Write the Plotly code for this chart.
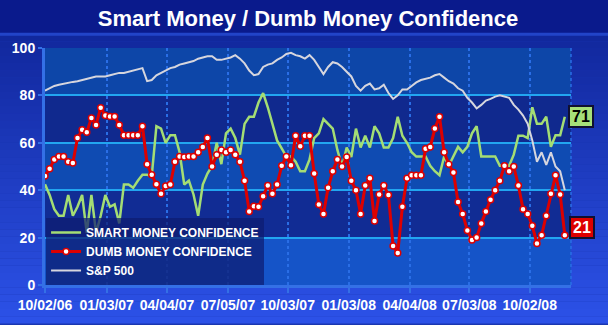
import plotly.graph_objects as go
import pandas as pd

# ---------------- data (weekly) ----------------
weeks = pd.date_range("2006-10-02", periods=113, freq="7D")

smart_money = [
    42.5, 38, 32, 29.2, 29.2, 38, 29.2, 33, 38, 22, 38, 22, 29.2, 38, 33, 34, 26, 42.4, 42.4, 41,
    44, 46.5, 46.5, 46, 67, 66, 60, 63.2, 63.2, 56, 42.4, 44, 38.2, 29.2, 42.4, 47, 50.3, 60, 51,
    64, 66, 62, 55, 68, 71, 71, 77, 81, 75, 68, 61, 57.6, 54.2, 54.2, 52, 48, 48, 53,
    62, 64, 70, 68, 66, 57, 50, 58, 54, 66, 58, 63, 58, 67, 64, 58, 58, 62, 71,
    63, 60, 56, 54.2, 54.2, 54.2, 50.3, 48, 46.3, 54.2, 50.3, 54.2, 58.3, 56, 58.3, 64, 67, 54.2, 54.2,
    54.2, 54.2, 50.3, 50.3, 50.3, 55, 63, 63, 62, 75, 68, 68, 71, 58.3, 63.2, 63.2, 71,
]

dumb_money = [
    46, 49, 53, 54.2, 54.2, 52, 51.5, 62, 65.5, 64.5, 70.5, 67.5, 74.8, 71.5, 71.1, 71.1, 67.5, 63.2, 63.2, 63.2,
    63.2, 67, 51, 46.5, 42.5, 38.5, 41.8, 42.4, 52, 54.2, 54, 54.2, 54.2, 56, 58.2, 62, 50, 55, 57,
    56, 57, 55, 52, 44, 31, 33.2, 33, 37.5, 42, 38.5, 42.4, 50.3, 54.2, 50.5, 63, 58.5, 63, 63,
    47, 34, 30, 41, 48, 53, 50, 54, 44, 40, 30, 42, 45, 27, 38.2, 42, 38, 16.5, 13.5,
    33, 45, 46.3, 46.3, 46.3, 57.5, 58.2, 66, 71, 56, 51, 47.5, 35, 30, 23, 19, 20, 26, 31,
    36, 40, 44, 50.3, 48, 50, 42, 32, 30, 25, 17.5, 21, 29.2, 38.5, 46.3, 38.2, 21,
]

sp500 = [
    82, 83, 84, 84.5, 85, 85.5, 85.7, 86, 86.5, 87, 87.5, 88, 88, 88, 88.5, 89, 89.5, 89.5, 90, 90.5,
    91, 91.5, 86, 86.5, 88.5, 89.5, 90.5, 91.5, 92, 93, 93.5, 94, 94.5, 95.5, 96, 96.5, 96.5, 95, 95,
    95.5, 96, 97, 95.5, 93.5, 90.5, 88.5, 89, 92, 93, 93.5, 95, 96, 97.5, 98, 97, 96.5, 95.5, 97,
    95, 92, 89, 92, 94, 93.5, 92, 90, 88, 84, 82, 84, 85, 82.5, 83, 84.5, 81, 78.5, 80,
    82.5, 82.5, 84, 85.5, 86.5, 87, 87.5, 88.5, 89, 87.5, 86, 85, 83, 82, 79, 77, 74.5, 76, 77.8,
    78.5, 79.5, 80, 79.5, 79, 76, 74, 71.5, 68, 61, 52, 56, 50.7, 56, 50, 48, 40,
]

tick_dates = ["2006-10-02", "2007-01-03", "2007-04-04", "2007-07-05", "2007-10-03",
              "2008-01-03", "2008-04-04", "2008-07-03", "2008-10-02"]
tick_labels = ["10/02/06", "01/03/07", "04/04/07", "07/05/07", "10/03/07",
               "01/03/08", "04/04/08", "07/03/08", "10/02/08"]
y_ticks = [0, 20, 40, 60, 80, 100]

# ---------------- styling ----------------
FONT = "Liberation Sans, Arial, sans-serif"
GREEN = "#a4dd74"
RED = "#dd0000"
GREY = "#d6d6de"
W, H = 608, 325
ML, MR, MT, MB = 35, 37, 48, 37
PH = H - MT - MB


def py_to_paper(py):
    return (H - MB - py) / PH


def lerp(c1, c2, t):
    a = [int(c1[i:i + 2], 16) for i in (1, 3, 5)]
    b = [int(c2[i:i + 2], 16) for i in (1, 3, 5)]
    return "#" + "".join(f"{round(a[k] + (b[k] - a[k]) * t):02x}" for k in range(3))


fig = go.Figure()

fig.add_trace(go.Scatter(
    x=weeks, y=smart_money, name="SMART MONEY CONFIDENCE", mode="lines",
    line=dict(color=GREEN, width=2.5), legendrank=1))
fig.add_trace(go.Scatter(
    x=weeks, y=sp500, name="S&P 500", mode="lines",
    line=dict(color=GREY, width=2), legendrank=3))
fig.add_trace(go.Scatter(
    x=weeks, y=dumb_money, name="DUMB MONEY CONFIDENCE", mode="lines+markers",
    line=dict(color=RED, width=3),
    marker=dict(size=6, color="white", line=dict(color=RED, width=1.5)),
    legendrank=2))

shapes = []
# figure background gradient
shapes.append(dict(type="rect", xref="paper", yref="paper", x0=-0.2, x1=1.2,
                   y0=py_to_paper(34), y1=py_to_paper(-5), fillcolor="#0a1a8c",
                   line=dict(width=0), layer="below"))
n = 40
top, bot = 34, H + 2
for k in range(n):
    p0 = top + (bot - top) * k / n
    p1 = top + (bot - top) * (k + 1) / n
    shapes.append(dict(type="rect", xref="paper", yref="paper", x0=-0.2, x1=1.2,
                       y0=py_to_paper(p1), y1=py_to_paper(p0),
                       fillcolor=lerp("#11279c", "#2c52e8", (k + 0.5) / n),
                       line=dict(width=0), layer="below"))
shapes.append(dict(type="line", xref="paper", yref="paper", x0=-0.2, x1=1.2,
                   y0=py_to_paper(34), y1=py_to_paper(34),
                   line=dict(color="#2244c8", width=3), layer="below"))
# plot bands
band_cols = ["#1554c8", "#112c94", "#0f4bb2", "#10298e", "#0d46a8"]
for j in range(5):
    shapes.append(dict(type="rect", xref="x domain", yref="y", x0=0, x1=1,
                       y0=y_ticks[j], y1=y_ticks[j + 1], fillcolor=band_cols[j],
                       line=dict(width=0), layer="below"))
shapes.append(dict(type="line", xref="x domain", yref="y domain", x0=1, x1=1, y0=0, y1=1,
                   line=dict(color="#2a6ee6", width=1.5, dash="dot"), layer="below"))

annotations = [
    dict(x=weeks[-1], y=smart_money[-1], xref="x", yref="y", xshift=16,
         text=f"<b>{round(smart_money[-1])}</b>", showarrow=False,
         font=dict(family=FONT, size=16, color="black"),
         bgcolor="#a6e07a", bordercolor="#101030", borderwidth=2, borderpad=0,
         width=22, height=19),
    dict(x=weeks[-1], y=dumb_money[-1], xref="x", yref="y", xshift=17, yshift=8,
         text=f"<b>{round(dumb_money[-1])}</b>", showarrow=False,
         font=dict(family=FONT, size=16, color="white"),
         bgcolor="#dd0000", bordercolor="#101030", borderwidth=2, borderpad=0,
         width=22, height=19),
]

fig.update_layout(
    width=W, height=H,
    margin=dict(l=ML, r=MR, t=MT, b=MB),
    paper_bgcolor="#1a36b0",
    plot_bgcolor="rgba(0,0,0,0)",
    title=dict(text="<b>Smart Money / Dumb Money Confidence</b>",
               font=dict(family=FONT, size=22, color="white"),
               x=0.5, xanchor="center", xref="paper",
               y=1 - 18 / H, yanchor="middle", yref="container"),
    shapes=shapes,
    annotations=annotations,
    showlegend=True,
    legend=dict(x=0.002, y=0.0, xanchor="left", yanchor="bottom",
                bgcolor="rgba(14,28,112,0.72)", borderwidth=0,
                font=dict(family=FONT, size=12, color="white", weight="bold"),
                traceorder="normal"),
    xaxis=dict(type="date", range=["2006-10-02", "2008-12-03 08:00"],
               tickvals=tick_dates, ticktext=tick_labels,
               tickfont=dict(family=FONT, size=14, color="white", weight="bold"),
               ticks="outside", ticklen=5, tickwidth=2, tickcolor="#3470e6",
               showgrid=True, gridcolor="#2a6ee6", gridwidth=1.5, griddash="dot",
               showline=True, linecolor="#3470e6", linewidth=3,
               zeroline=False, fixedrange=True),
    yaxis=dict(range=[0, 100], tickvals=y_ticks,
               tickfont=dict(family=FONT, size=14, color="white", weight="bold"),
               ticks="outside", ticklen=4, tickwidth=2, tickcolor="#3470e6",
               showgrid=True, gridcolor="#22a6f0", gridwidth=1.5,
               showline=True, linecolor="#3470e6", linewidth=3,
               zeroline=False, fixedrange=True),
)

fig.write_html("out.html")
